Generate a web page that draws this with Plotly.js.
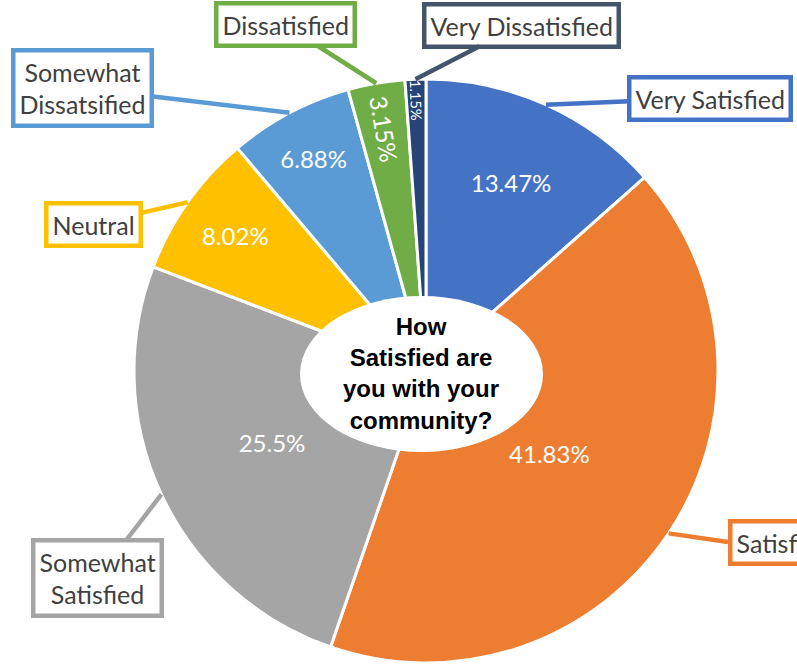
<!DOCTYPE html>
<html>
<head>
<meta charset="utf-8">
<script src="https://cdn.plot.ly/plotly-3.0.1.min.js"></script>
<style>html,body{margin:0;padding:0;background:#fff;}#chart{width:797px;height:664px;}</style>
</head>
<body>
<div id="chart"></div>
<script>
// ---- data ----
const categories = ['Very Satisfied','Satisfied','Somewhat Satisfied','Neutral','Somewhat Dissatisfied','Dissatisfied','Very Dissatisfied'];
const boxLabels = ['Very Satisfied','Satisfied','Somewhat<br>Satisfied','Neutral','Somewhat<br>Dissatsified','Dissatisfied','Very Dissatisfied'];
const values = [13.47, 41.83, 25.5, 8.02, 6.88, 3.15, 1.15];
const percentLabels = ['13.47%','41.83%','25.5%','8.02%','6.88%','3.15%','1.15%'];
const centerTitle = 'How<br>Satisfied are<br>you with your<br>community?';

// ---- styles / layout ----
const sliceColors = ['#4472C4','#ED7D31','#A5A5A5','#FFC000','#5B9BD5','#70AD47','#264478'];
const boxColors = ['#4472C4','#ED7D31','#A5A5A5','#FFC000','#5B9BD5','#70AD47','#44546A'];
// label box anchor positions in pixels [x, y, xanchor]
const boxPos = [[710,98,'center'],[728,542,'left'],[97,578,'center'],[93,224,'center'],[82,88,'center'],[285,25,'center'],[521,25,'center']];

const W = 797, H = 664;
const cx = 426, cy = 371, R = 292;

const total = values.reduce((a,b)=>a+b,0);
let cum = 0;
const annotations = [];
values.forEach((v,i)=>{
  const th = 2*Math.PI*(cum + v/2)/total;
  cum += v;
  const tx = cx + R*Math.sin(th), ty = cy - R*Math.cos(th);
  const [bx, by, anchor] = boxPos[i];
  annotations.push({
    xref:'paper', yref:'paper', x: tx/W, y: 1 - ty/H,
    ax: bx - tx, ay: by - ty, axref:'pixel', ayref:'pixel',
    showarrow:true, arrowhead:0, arrowwidth:4.5, arrowcolor: boxColors[i], standoff:0,
    text: boxLabels[i], xanchor: anchor,
    font:{family:'Lato, "Open Sans", sans-serif', size:25, color:'#404040'},
    bgcolor:'#ffffff', bordercolor: boxColors[i], borderwidth:4.5, borderpad:4
  });
});
annotations.push({
  xref:'paper', yref:'paper', x: 421/W, y: 1 - 373/H, showarrow:false,
  text: '<b>' + centerTitle + '</b>',
  font:{family:'"Liberation Sans", Arial, sans-serif', size:24, color:'#000'}
});

const trace = {
  type:'pie',
  labels: categories,
  values: values,
  text: percentLabels,
  texttemplate: '%{text}',
  textinfo: 'text',
  textposition: 'inside',
  insidetextorientation: 'auto',
  insidetextfont: {family:'Lato, "Open Sans", sans-serif', size:24, color:'#ffffff'},
  sort: false,
  direction: 'clockwise',
  rotation: 0,
  marker: {colors: sliceColors, line:{color:'#ffffff', width:3}},
  hoverinfo: 'none',
  domain: {x:[(cx-R)/W,(cx+R)/W], y:[1-(cy+R)/H, 1-(cy-R)/H]}
};

const layout = {
  width: W, height: H,
  margin:{l:0,r:0,t:0,b:0},
  paper_bgcolor:'#ffffff',
  showlegend:false,
  annotations: annotations,
  shapes:[{type:'circle', xref:'paper', yref:'paper', x0:300/W, x1:543/W, y0:1-452/H, y1:1-296/H,
           fillcolor:'#ffffff', line:{width:0}, layer:'above'}]
};

Plotly.newPlot('chart',[trace],layout,{displayModeBar:false, staticPlot:true});
</script>
</body>
</html>
